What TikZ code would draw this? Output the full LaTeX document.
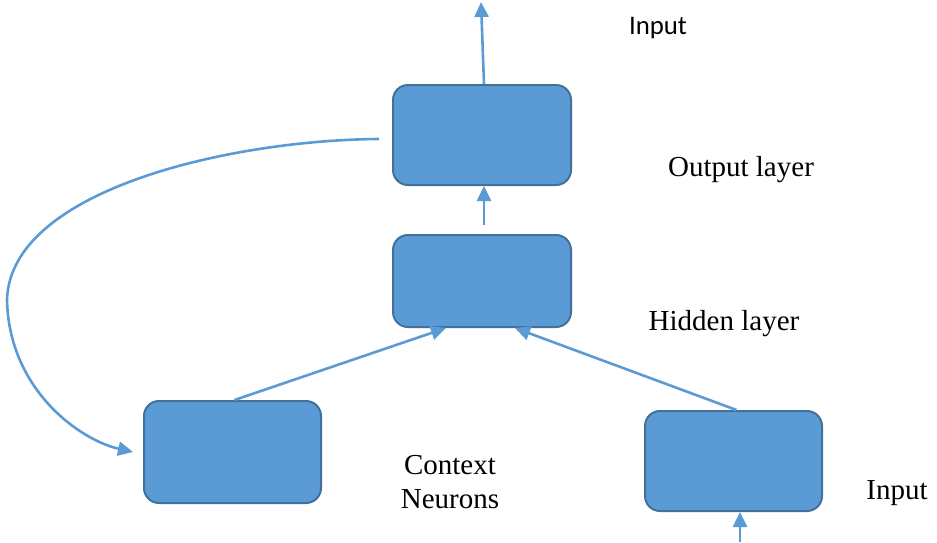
\documentclass[tikz,border=0pt]{standalone}
\usepackage{fontspec}
\setmainfont{Liberation Serif}
\newfontfamily\calfont{Carlito}
\usetikzlibrary{arrows.meta}
\definecolor{lineblue}{HTML}{5B9BD5}
\definecolor{boxfill}{HTML}{5B9BD5}
\definecolor{boxedge}{HTML}{41719C}
\tikzset{
  layerbox/.style={draw=boxedge, line width=2pt, fill=boxfill, rounded corners=15pt, inner sep=0pt},
  conn/.style={draw=lineblue, line width=2.6pt, -{Triangle[length=15pt,width=14pt]}},
  lbl/.style={font=\fontsize{29}{34}\selectfont, inner sep=0pt, align=center}
}
\begin{document}
\begin{tikzpicture}[x=1pt,y=-1pt]
\useasboundingbox (0,0) rectangle (937,542);
\node[layerbox, minimum width=178pt, minimum height=100pt] (out) at (482,135) {};
\node[layerbox, minimum width=178pt, minimum height=92pt] (hid) at (482,281) {};
\node[layerbox, minimum width=177pt, minimum height=102pt] (ctx) at (232.5,452) {};
\node[layerbox, minimum width=177pt, minimum height=100pt] (inp) at (733.5,461) {};

\coordinate (topend) at (481,2);
\coordinate (botstart) at (740,542);
\coordinate (fbstart) at (379,139);

\draw[conn] ([xshift=2pt]out.north) -- (topend);
\draw[conn] ([xshift=2pt,yshift=9pt]hid.north) -- ([xshift=2pt]out.south);
\draw[conn] ([xshift=2pt]ctx.north) -- ([xshift=-36pt]hid.south);
\draw[conn] ([xshift=3pt]inp.north) -- ([xshift=33pt]hid.south);
\draw[conn] (botstart) -- ([xshift=6.5pt]inp.south);
\draw[conn] (fbstart) .. controls (230,140) and (10,190) .. (7,300)
  .. controls (9,390) and (80,440) .. ([xshift=-10pt]ctx.west);

\node[inner sep=0pt, font=\calfont\fontsize{26.8}{30}\selectfont] (tin) at (658,28) {Input};
\node[lbl] (tout) at (741,170) {Output layer};
\node[lbl] (thid) at (724,324) {Hidden layer};
\node[lbl] (tctx) at (450,482) {Context\\Neurons};
\node[lbl] (tinp) at (897,493) {Input};
\end{tikzpicture}
\end{document}
